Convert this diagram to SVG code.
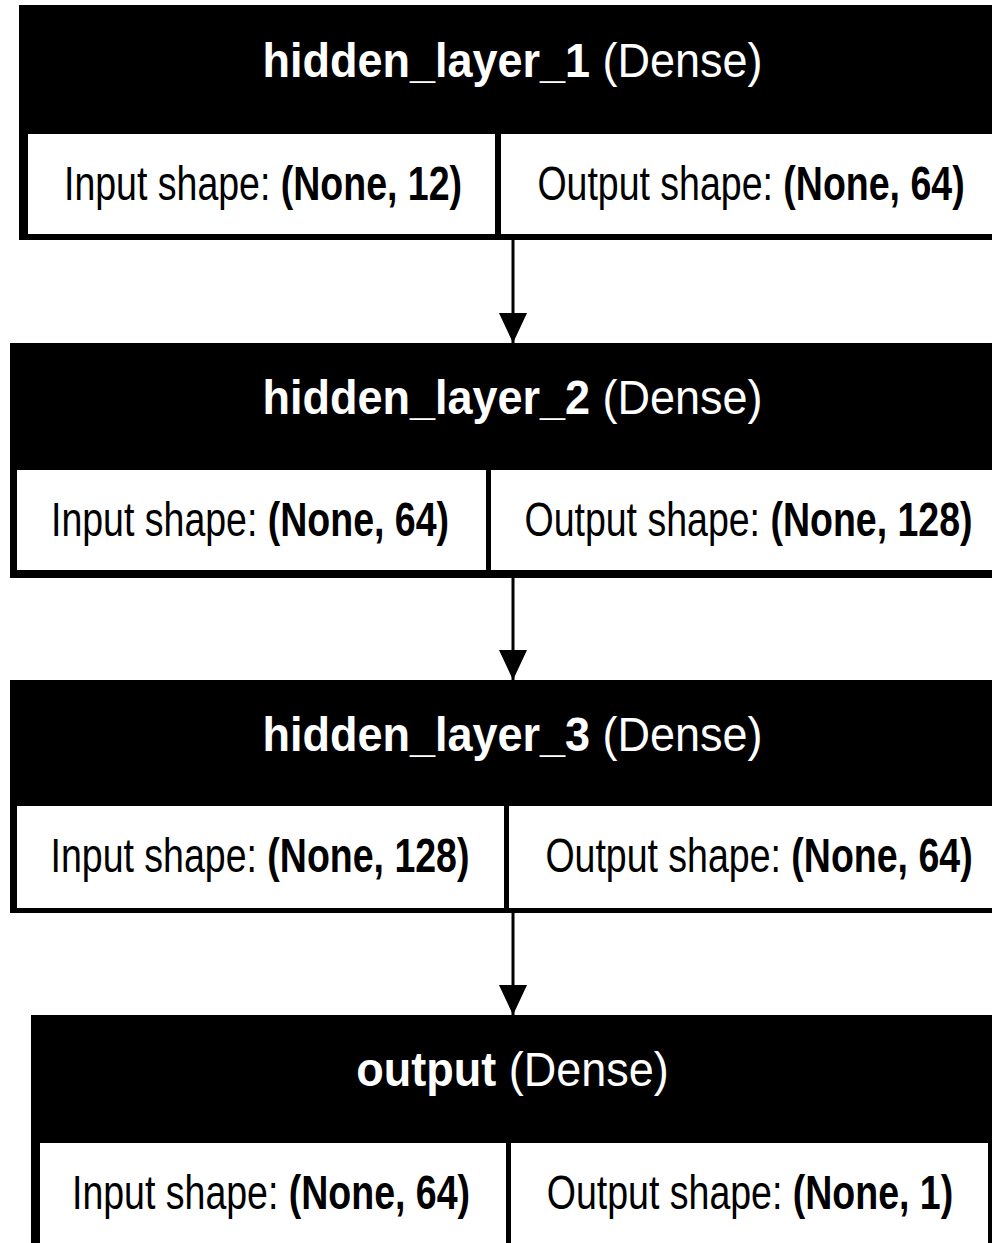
<svg xmlns="http://www.w3.org/2000/svg" width="992" height="1243" viewBox="0 0 992 1243">
<style>
.box{fill:#000}
.cell{fill:#fff}
.hd{font-family:"Liberation Sans",Arial,sans-serif;font-size:45px;fill:#fff;text-anchor:middle}
.ct{font-family:"Liberation Sans",Arial,sans-serif;font-size:37.5px;fill:#000;text-anchor:middle}
.b{font-weight:bold}
.edge{stroke:#000;stroke-width:3;fill:none}
</style>
<defs>
<marker id="ah" viewBox="0 0 30 28" refX="30" refY="14" markerWidth="30" markerHeight="28" orient="auto" markerUnits="userSpaceOnUse">
<path d="M0,0 L30,14 L0,28 z" fill="#000"/>
</marker>
</defs>
<rect width="992" height="1243" fill="#fff"/>
<g id="connectors">
<line class="edge" x1="513" y1="240" x2="513" y2="343" marker-end="url(#ah)"/>
<line class="edge" x1="513" y1="578" x2="513" y2="680" marker-end="url(#ah)"/>
<line class="edge" x1="513" y1="913" x2="513" y2="1015" marker-end="url(#ah)"/>
</g>
<g id="hidden_layer_1">
<rect class="box" x="19" y="5" width="988" height="235"/>
<rect class="cell" x="28" y="134" width="467" height="100"/>
<rect class="cell" x="501" y="134" width="499" height="100"/>
<text class="hd" transform="translate(512.5,77) scale(1,1.08)"><tspan class="b">hidden_layer_1</tspan> (Dense)</text>
<text class="ct" transform="translate(263,200) scale(1,1.3)">Input shape: <tspan class="b">(None, 12)</tspan></text>
<text class="ct" transform="translate(751,200) scale(1,1.3)">Output shape: <tspan class="b">(None, 64)</tspan></text>
</g>
<g id="hidden_layer_2">
<rect class="box" x="10" y="343" width="1006" height="235"/>
<rect class="cell" x="17" y="470" width="469" height="100"/>
<rect class="cell" x="491" y="470" width="514" height="100"/>
<text class="hd" transform="translate(512.5,414) scale(1,1.08)"><tspan class="b">hidden_layer_2</tspan> (Dense)</text>
<text class="ct" transform="translate(250,536) scale(1,1.3)">Input shape: <tspan class="b">(None, 64)</tspan></text>
<text class="ct" transform="translate(748.5,536) scale(1,1.3)">Output shape: <tspan class="b">(None, 128)</tspan></text>
</g>
<g id="hidden_layer_3">
<rect class="box" x="10" y="680" width="1006" height="233"/>
<rect class="cell" x="17" y="806" width="487" height="102"/>
<rect class="cell" x="509" y="806" width="501" height="102"/>
<text class="hd" transform="translate(512.5,751) scale(1,1.08)"><tspan class="b">hidden_layer_3</tspan> (Dense)</text>
<text class="ct" transform="translate(260,872) scale(1,1.3)">Input shape: <tspan class="b">(None, 128)</tspan></text>
<text class="ct" transform="translate(759,872) scale(1,1.3)">Output shape: <tspan class="b">(None, 64)</tspan></text>
</g>
<g id="output">
<rect class="box" x="31" y="1015" width="965" height="260"/>
<rect class="cell" x="40" y="1143" width="466" height="200"/>
<rect class="cell" x="511" y="1143" width="477" height="200"/>
<text class="hd" transform="translate(512.5,1086) scale(1,1.08)"><tspan class="b">output</tspan> (Dense)</text>
<text class="ct" transform="translate(271,1209) scale(1,1.3)">Input shape: <tspan class="b">(None, 64)</tspan></text>
<text class="ct" transform="translate(750,1209) scale(1,1.3)">Output shape: <tspan class="b">(None, 1)</tspan></text>
</g>
</svg>
